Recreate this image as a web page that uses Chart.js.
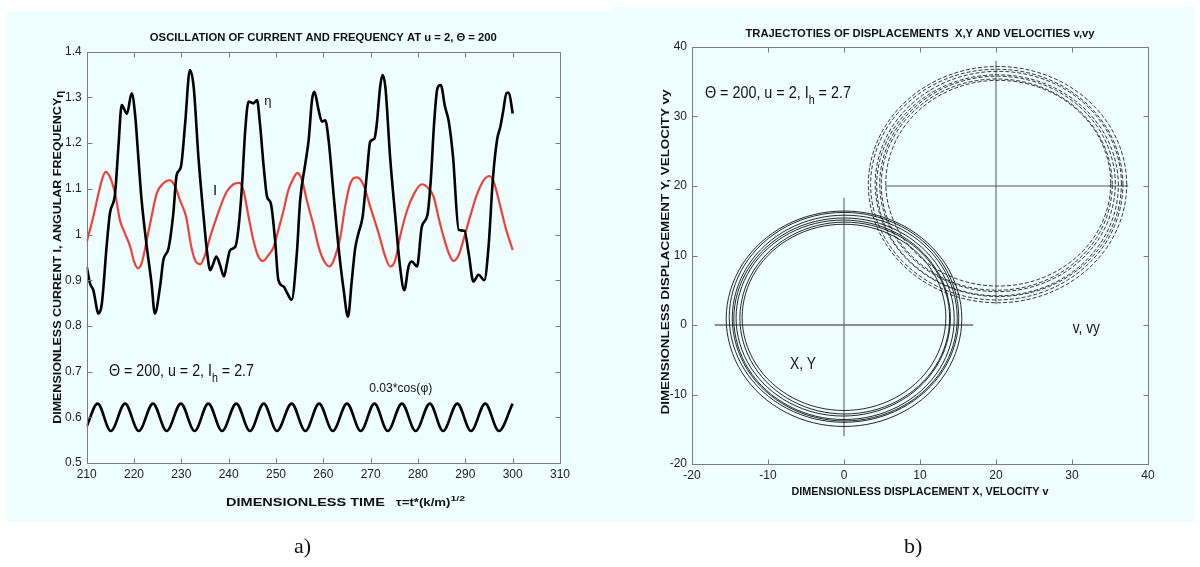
<!DOCTYPE html>
<html><head><meta charset="utf-8">
<script src="https://cdn.jsdelivr.net/npm/chart.js@4.4.0/dist/chart.umd.min.js"></script>
<style>
html,body{margin:0;padding:0;background:#fff;}
#wrap{position:relative;width:1200px;height:567px;overflow:hidden;}
.panel{position:absolute;background:#EEFEFE;}
canvas{position:absolute;top:0;}
.cap{position:absolute;font:22px 'Liberation Serif','Times New Roman',serif;color:#111;line-height:22px;}
</style></head><body>
<div id="wrap">
<div class="panel" style="left:7px;top:12px;width:606px;height:510px"></div>
<div class="panel" style="left:613px;top:7px;width:582px;height:515px"></div>
<canvas id="cA" width="600" height="567" style="left:0"></canvas>
<canvas id="cB" width="600" height="567" style="left:600px"></canvas>
<div class="cap" style="left:294px;top:535px">a)</div>
<div class="cap" style="left:904px;top:535px">b)</div>
</div>
<script>
// ---------------- panel a data ----------------
const tauTicks = [210,220,230,240,250,260,270,280,290,300,310];
const levelTicks = [0.5,0.6,0.7,0.8,0.9,1.0,1.1,1.2,1.3,1.4];

const etaTime = [210,210.7,211.4,212.5,213.2,214.2,214.9,216.0,216.7,217.4,218.5,219.5,220.2,220.9,221.6,222.7,223.7,224.4,225.5,226.2,227.3,228.3,229.0,229.9,230.8,231.8,232.6,233.6,234.7,235.4,236.1,236.7,237.4,238.2,239.0,239.6,240.3,241.4,242.1,242.8,243.5,244.2,245.2,246.0,246.6,247.4,248.1,248.9,249.8,250.5,251.6,252.4,253.3,254.4,255.1,256.2,256.9,257.6,258.1,259.0,259.7,260.4,261.1,262.2,263.2,264.3,265.2,266.0,266.7,267.4,268.3,269.2,269.9,270.8,271.3,272.0,272.5,273.1,274.1,275.2,276.2,277.1,278.0,278.7,279.8,280.8,282.0,282.7,283.4,284.1,284.8,285.7,286.5,287.4,288.6,289.8,290.7,291.7,292.8,294.0,294.9,295.8,296.7,297.4,298.0,298.7,299.2,300];
const etaValue = [0.930,0.893,0.878,0.827,0.849,0.973,1.046,1.090,1.192,1.283,1.264,1.309,1.265,1.170,1.075,0.973,0.893,0.827,0.886,0.944,0.970,1.046,1.130,1.148,1.243,1.360,1.323,1.170,1.039,0.965,0.922,0.935,0.952,0.932,0.908,0.935,0.966,0.973,1.017,1.105,1.229,1.291,1.287,1.294,1.243,1.148,1.083,1.068,0.988,0.900,0.886,0.871,0.857,0.959,1.075,1.156,1.207,1.294,1.312,1.272,1.247,1.250,1.207,1.083,0.973,0.878,0.820,0.898,0.968,1.002,1.039,1.134,1.203,1.210,1.243,1.323,1.349,1.323,1.170,1.039,0.930,0.878,0.930,0.941,0.930,1.017,1.043,1.119,1.243,1.320,1.327,1.280,1.247,1.170,1.010,1.008,0.959,0.897,0.912,0.900,0.973,1.119,1.207,1.236,1.270,1.310,1.310,1.265];

const currTime = [210,211.4,212.5,213.2,214.0,214.9,216.0,217.0,218.1,219.2,220.0,220.8,221.6,222.7,223.7,224.8,226.2,227.5,228.7,229.7,231.0,232.1,232.9,234.0,235.0,236.1,237.5,238.5,239.6,241.0,242.3,243.1,244.2,245.2,246.3,247.2,248.4,249.5,250.5,251.6,252.6,253.7,254.5,255.5,256.5,258.0,259.0,260.2,261.3,262.2,263.6,264.6,265.7,267.1,268.5,269.9,271.7,273.1,274.1,275.2,276.2,277.7,279.2,280.8,282.2,283.3,284.3,285.4,286.5,287.5,288.6,289.6,291.0,292.4,293.9,295.1,296.0,297.4,298.5,300];
const currValue = [0.984,1.039,1.090,1.119,1.137,1.126,1.090,1.032,1.002,0.973,0.941,0.926,0.937,0.988,1.039,1.090,1.112,1.119,1.105,1.075,1.039,0.973,0.944,0.935,0.955,0.995,1.039,1.068,1.094,1.110,1.113,1.097,1.039,0.988,0.951,0.942,0.955,0.973,1.010,1.053,1.097,1.123,1.135,1.119,1.075,1.017,0.973,0.941,0.930,0.944,0.995,1.061,1.112,1.125,1.108,1.061,1.002,0.951,0.930,0.944,0.995,1.053,1.090,1.110,1.101,1.083,1.039,0.995,0.959,0.942,0.955,0.988,1.039,1.086,1.119,1.128,1.115,1.061,1.015,0.966];

const cosTime = [210,212.3,215.1,218.1,221.0,224.0,226.9,229.9,232.8,235.7,238.6,241.6,244.5,247.4,250.2,253.3,256.2,259.1,262.0,265.0,267.9,270.8,273.6,276.6,279.5,282.5,285.3,288.3,291.2,294.2,297.1,300];
const cosValue = [0.580,0.630,0.570,0.630,0.570,0.630,0.570,0.630,0.570,0.630,0.570,0.630,0.570,0.630,0.570,0.630,0.570,0.630,0.570,0.630,0.570,0.630,0.570,0.630,0.570,0.630,0.570,0.630,0.570,0.630,0.570,0.630];

// ---------------- panel b data ----------------
const dispTicks = [-20,-10,0,10,20,30,40];
const dispYTicks = [-20,-10,0,10,20,30,40];

const xyLoop1 = [[13.4,1.1],[11.6,7.8],[6.7,12.7],[0,14.5],[-6.7,12.7],[-11.6,7.8],[-13.4,1.1],[-11.6,-5.6],[-6.7,-10.5],[0,-12.3],[6.7,-10.5],[11.6,-5.6]];
const xyLoop2 = [[13.9,1.0],[12.05,7.9],[7.0,12.95],[0.1,14.8],[-6.8,12.95],[-11.85,7.9],[-13.7,1.0],[-11.85,-5.9],[-6.8,-10.95],[0.1,-12.8],[7.0,-10.95],[12.05,-5.9]];
const xyLoop3 = [[14.0,1.0],[12.11,8.05],[6.95,13.21],[-0.1,15.1],[-7.15,13.21],[-12.31,8.05],[-14.2,1.0],[-12.31,-6.05],[-7.15,-11.21],[-0.1,-13.1],[6.95,-11.21],[12.11,-6.05]];
const xyLoop4 = [[14.5,0.9],[12.56,8.15],[7.25,13.46],[0,15.4],[-7.25,13.46],[-12.56,8.15],[-14.5,0.9],[-12.56,-6.35],[-7.25,-11.66],[0,-13.6],[7.25,-11.66],[12.56,-6.35]];
const xyLoop5 = [[14.9,1.0],[12.92,8.4],[7.5,13.82],[0.1,15.8],[-7.3,13.82],[-12.72,8.4],[-14.7,1.0],[-12.72,-6.4],[-7.3,-11.82],[0.1,-13.8],[7.5,-11.82],[12.92,-6.4]];
const xyLoop6 = [[15.1,1.1],[13.08,8.65],[7.55,14.18],[0,16.2],[-7.55,14.18],[-13.08,8.65],[-15.1,1.1],[-13.08,-6.45],[-7.55,-11.98],[0,-14.0],[7.55,-11.98],[13.08,-6.45]];
const xyLoop7 = [[15.5,0.9],[13.42,8.65],[7.75,14.32],[0,16.4],[-7.75,14.32],[-13.42,8.65],[-15.5,0.9],[-13.42,-6.85],[-7.75,-12.52],[0,-14.6],[7.75,-12.52],[13.42,-6.85]];

const vLoop1 = [[35.1,20.4],[33.12,27.8],[27.7,33.22],[20.3,35.2],[12.9,33.22],[7.48,27.8],[5.5,20.4],[7.48,13.0],[12.9,7.58],[20.3,5.6],[27.7,7.58],[33.12,13.0]];
const vLoop2 = [[35.3,20.2],[33.26,27.8],[27.7,33.36],[20.1,35.4],[12.5,33.36],[6.94,27.8],[4.9,20.2],[6.94,12.6],[12.5,7.04],[20.1,5.0],[27.7,7.04],[33.26,12.6]];
const vLoop3 = [[35.7,20.3],[33.62,28.05],[27.95,33.72],[20.2,35.8],[12.45,33.72],[6.78,28.05],[4.7,20.3],[6.78,12.55],[12.45,6.88],[20.2,4.8],[27.95,6.88],[33.62,12.55]];
const vLoop4 = [[36.1,20.1],[33.97,28.05],[28.15,33.87],[20.2,36.0],[12.25,33.87],[6.43,28.05],[4.3,20.1],[6.43,12.15],[12.25,6.33],[20.2,4.2],[28.15,6.33],[33.97,12.15]];
const vLoop5 = [[36.5,20.3],[34.33,28.4],[28.4,34.33],[20.3,36.5],[12.2,34.33],[6.27,28.4],[4.1,20.3],[6.27,12.2],[12.2,6.27],[20.3,4.1],[28.4,6.27],[34.33,12.2]];
const vLoop6 = [[36.7,20.2],[34.48,28.5],[28.4,34.58],[20.1,36.8],[11.8,34.58],[5.72,28.5],[3.5,20.2],[5.72,11.9],[11.8,5.82],[20.1,3.6],[28.4,5.82],[34.48,11.9]];
const vLoop7 = [[37.2,20.2],[34.92,28.7],[28.7,34.92],[20.2,37.2],[11.7,34.92],[5.48,28.7],[3.2,20.2],[5.48,11.7],[11.7,5.48],[20.2,3.2],[28.7,5.48],[34.92,11.7]];

const xyAxisH = [[-17,0],[17,0]];
const xyAxisV = [[0,-16],[0,18.3]];
const vAxisH = [[5.4,20],[37.4,20]];
const vAxisV = [[20,3],[20,38]];

// ---------------- texts ----------------
const titleA = 'OSCILLATION OF CURRENT AND FREQUENCY AT u = 2, \u0398 = 200';
const titleB = 'TRAJECTOTIES OF DISPLACEMENTS  X,Y AND VELOCITIES v,vy';

// ---------------- helpers ----------------
const SANS = "'Liberation Sans','Arial',sans-serif";
const NARROW = "'Liberation Sans Narrow','Liberation Sans','Arial',sans-serif";
Chart.defaults.font.family = NARROW;

function drawRuns(ctx, runs, x, y, width, align, color, rotate) {
  ctx.save();
  let total = 0;
  runs.forEach(r => { ctx.font = r.font; r.w = ctx.measureText(r.t).width; total += r.w; });
  const s = width ? width / total : 1;
  ctx.translate(x, y);
  if (rotate) ctx.rotate(rotate);
  ctx.scale(s, 1);
  let cx = align === 'center' ? -total / 2 : (align === 'right' ? -total : 0);
  ctx.fillStyle = color || '#111';
  ctx.textBaseline = 'alphabetic';
  ctx.textAlign = 'left';
  runs.forEach(r => { ctx.font = r.font; ctx.fillText(r.t, cx, r.dy || 0); cx += r.w; });
  ctx.restore();
}
const pts = (xs, ys) => xs.map((v, i) => ({x: v, y: ys[i]}));
const pairs = arr => arr.map(p => ({x: p[0], y: p[1]}));

const framePlugin = {
  id: 'frame',
  afterDatasetsDraw(chart) {
    const {ctx, chartArea: a, scales: {x, y}} = chart;
    ctx.save();
    ctx.strokeStyle = '#7c7c7c';
    ctx.lineWidth = 1;
    const L = Math.round(a.left) + 0.5, R = Math.round(a.right) + 0.5, T = Math.round(a.top) + 0.5, B = Math.round(a.bottom) + 0.5;
    ctx.strokeRect(L, T, R - L, B - T);
    ctx.beginPath();
    x.ticks.forEach(t => { const p = Math.round(x.getPixelForValue(t.value)) + 0.5; ctx.moveTo(p, B); ctx.lineTo(p, B - 5); ctx.moveTo(p, T); ctx.lineTo(p, T + 5); });
    y.ticks.forEach(t => { const p = Math.round(y.getPixelForValue(t.value)) + 0.5; ctx.moveTo(L, p); ctx.lineTo(L + 5, p); ctx.moveTo(R, p); ctx.lineTo(R - 5, p); });
    ctx.stroke();
    ctx.restore();
  }
};

// closes the trajectory loops (each loop is one revolution)
const loopPlugin = {
  id: 'loops',
  afterDatasetsUpdate(chart) {
    chart.data.datasets.forEach((ds, i) => {
      if (ds.closedLoop) {
        const m = chart.getDatasetMeta(i);
        if (m.dataset) { m.dataset._loop = true; m.dataset._fullLoop = true; m.dataset._path = undefined; m.dataset._segments = undefined; m.dataset._pointsUpdated = false; }
      }
    });
  }
};

function scaleX(min, max, ticks, fitH) {
  return {
    type: 'linear', min, max,
    afterBuildTicks: s => { s.ticks = ticks.map(v => ({value: v})); },
    afterFit: s => { s.height = fitH; },
    grid: {display: false, drawTicks: false}, border: {display: false},
    ticks: {padding: 4, color: '#222', font: {size: 12, family: NARROW}, maxRotation: 0, autoSkip: false,
      callback: v => String(Math.round(v * 10) / 10)}
  };
}
function scaleY(min, max, ticks, fitW) {
  return {
    type: 'linear', min, max,
    afterBuildTicks: s => { s.ticks = ticks.map(v => ({value: v})); },
    afterFit: s => { s.width = fitW; },
    grid: {display: false, drawTicks: false}, border: {display: false},
    ticks: {padding: 5, color: '#222', font: {size: 12, family: NARROW}, autoSkip: false,
      callback: v => String(Math.round(v * 10) / 10)}
  };
}

// ---------------- panel a ----------------
const textA = {
  id: 'textA',
  afterDraw(chart) {
    const {ctx, chartArea: a, scales: {x, y}} = chart;
    const cx = (a.left + a.right) / 2;
    drawRuns(ctx, [{t: titleA, font: 'bold 11px ' + SANS}], cx, 41, 347, 'center');
    drawRuns(ctx, [{t: 'DIMENSIONLESS CURRENT I, ANGULAR FREQUENCY', font: 'bold 11px ' + SANS}, {t: '\u03B7', font: 'bold 10px ' + SANS, dy: 2}],
      61, (a.top + a.bottom) / 2, 333, 'center', '#111', -Math.PI / 2);
    drawRuns(ctx, [{t: 'DIMENSIONLESS TIME', font: 'bold 11px ' + SANS}, {t: '   \u03C4=t*(k/m)', font: 'bold 10px ' + SANS}, {t: '1/2', font: 'bold 8px ' + SANS, dy: -5}],
      x.getPixelForValue(239.45), 506, 239, 'left');
    drawRuns(ctx, [{t: '\u0398 = 200, u = 2, I', font: '16px ' + SANS}, {t: 'h', font: '12px ' + SANS, dy: 6}, {t: ' = 2.7', font: '16px ' + SANS}],
      x.getPixelForValue(214.7), y.getPixelForValue(0.703) + 5.5, 145, 'left');
    drawRuns(ctx, [{t: '0.03*cos(\u03C6)', font: '12px ' + SANS}], x.getPixelForValue(269.7), y.getPixelForValue(0.664) + 4, 63, 'left');
    drawRuns(ctx, [{t: '\u03B7', font: '13px ' + SANS}], x.getPixelForValue(248.3), y.getPixelForValue(1.292) + 4, 0, 'center');
    drawRuns(ctx, [{t: 'I', font: '15px ' + SANS}], x.getPixelForValue(237.1), y.getPixelForValue(1.097) + 5, 0, 'center');
  }
};

new Chart(document.getElementById('cA'), {
  type: 'scatter',
  data: {datasets: [
    {data: pts(etaTime, etaValue), showLine: true, borderColor: '#000', borderWidth: 2.6, pointRadius: 0, cubicInterpolationMode: 'monotone'},
    {data: pts(currTime, currValue), showLine: true, borderColor: '#f0403a', borderWidth: 2.2, pointRadius: 0, cubicInterpolationMode: 'monotone'},
    {data: pts(cosTime, cosValue), showLine: true, borderColor: '#000', borderWidth: 2.6, pointRadius: 0, cubicInterpolationMode: 'monotone'}
  ]},
  options: {
    responsive: false, animation: false, devicePixelRatio: 1,
    layout: {padding: {left: 46.7, right: 40, top: 51.7, bottom: 74}},
    plugins: {legend: {display: false}, tooltip: {enabled: false}, title: {display: false}},
    scales: {x: scaleX(210, 310, tauTicks, 30), y: scaleY(0.5, 1.4, levelTicks, 40)}
  },
  plugins: [framePlugin, textA]
});

// ---------------- panel b ----------------
const textB = {
  id: 'textB',
  afterDraw(chart) {
    const {ctx, chartArea: a, scales: {x, y}} = chart;
    const cx = (a.left + a.right) / 2;
    drawRuns(ctx, [{t: titleB, font: 'bold 11px ' + SANS}], cx, 37, 349, 'center');
    drawRuns(ctx, [{t: 'DIMENSIONLESS DISPLACEMENT Y, VELOCITY vy', font: 'bold 11px ' + SANS}],
      69, 252, 325, 'center', '#111', -Math.PI / 2);
    drawRuns(ctx, [{t: 'DIMENSIONLESS DISPLACEMENT X, VELOCITY v', font: 'bold 11px ' + SANS}], cx, 495, 257, 'center');
    drawRuns(ctx, [{t: '\u0398 = 200, u = 2, I', font: '16px ' + SANS}, {t: 'h', font: '12px ' + SANS, dy: 6}, {t: ' = 2.7', font: '16px ' + SANS}],
      x.getPixelForValue(-18.3), y.getPixelForValue(33.4) + 5.5, 146, 'left');
    drawRuns(ctx, [{t: 'X, Y', font: '16px ' + SANS}], x.getPixelForValue(-7.1), y.getPixelForValue(-5.5) + 5.5, 26, 'left');
    drawRuns(ctx, [{t: 'v, vy', font: '16px ' + SANS}], x.getPixelForValue(30.1), y.getPixelForValue(-0.4) + 5.5, 27, 'left');
  }
};

const ringStyle = {showLine: true, borderColor: '#111', borderWidth: 0.9, pointRadius: 0, tension: 0.35, closedLoop: true};
const dashStyle = {showLine: true, borderColor: '#222', borderWidth: 0.9, pointRadius: 0, tension: 0.35, closedLoop: true, borderDash: [4, 2]};
const axStyle = {showLine: true, borderColor: '#555', borderWidth: 1, pointRadius: 0};

new Chart(document.getElementById('cB'), {
  type: 'scatter',
  data: {datasets: [
    Object.assign({data: pairs(xyLoop1)}, ringStyle),
    Object.assign({data: pairs(xyLoop2)}, ringStyle),
    Object.assign({data: pairs(xyLoop3)}, ringStyle),
    Object.assign({data: pairs(xyLoop4)}, ringStyle),
    Object.assign({data: pairs(xyLoop5)}, ringStyle),
    Object.assign({data: pairs(xyLoop6)}, ringStyle),
    Object.assign({data: pairs(xyLoop7)}, ringStyle),
    Object.assign({data: pairs(vLoop1)}, dashStyle),
    Object.assign({data: pairs(vLoop2)}, dashStyle),
    Object.assign({data: pairs(vLoop3)}, dashStyle),
    Object.assign({data: pairs(vLoop4)}, dashStyle),
    Object.assign({data: pairs(vLoop5)}, dashStyle),
    Object.assign({data: pairs(vLoop6)}, dashStyle),
    Object.assign({data: pairs(vLoop7)}, dashStyle),
    Object.assign({data: pairs(xyAxisH)}, axStyle, {borderColor: '#6a6a6a', borderWidth: 1.6}),
    Object.assign({data: pairs(xyAxisV)}, axStyle),
    Object.assign({data: pairs(vAxisH)}, axStyle),
    Object.assign({data: pairs(vAxisV)}, axStyle)
  ]},
  options: {
    responsive: false, animation: false, devicePixelRatio: 1,
    layout: {padding: {left: 52, right: 52, top: 47, bottom: 73}},
    plugins: {legend: {display: false}, tooltip: {enabled: false}, title: {display: false}},
    scales: {x: scaleX(-20, 40, dispTicks, 30), y: scaleY(-20, 40, dispYTicks, 40)}
  },
  plugins: [loopPlugin, framePlugin, textB]
});
</script>
</body></html>
